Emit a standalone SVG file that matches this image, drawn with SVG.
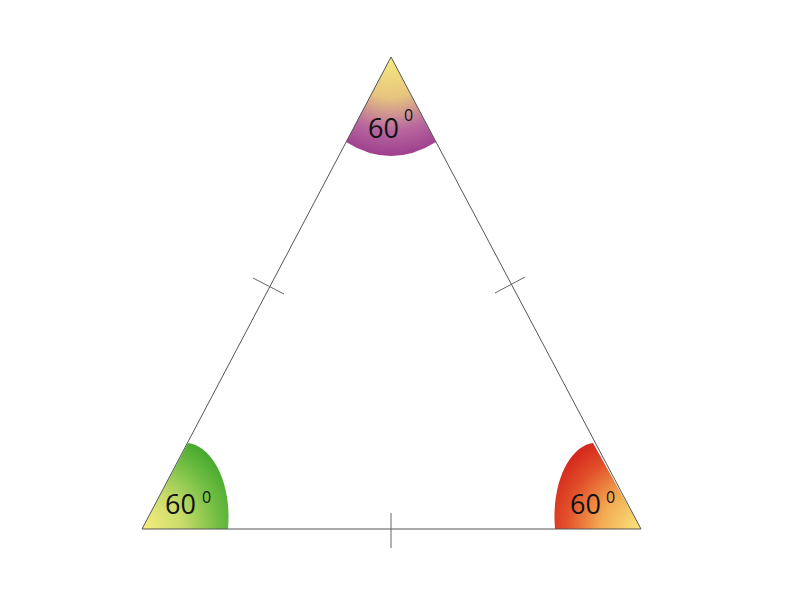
<svg xmlns="http://www.w3.org/2000/svg" width="800" height="600" viewBox="0 0 800 600">
  <style>
    .edge { stroke: #555; stroke-width: 1; fill: none; }
    .tick { stroke: #666; stroke-width: 1; fill: none; }
    .lbl { font-family: "Open Sans", "Liberation Sans", sans-serif; font-size: 27px; fill: #111; }
    .sup { font-family: "Open Sans", "Liberation Sans", sans-serif; font-size: 16px; fill: #111; }
  </style>
  <defs>
    <radialGradient id="gTop" gradientUnits="userSpaceOnUse" cx="391" cy="57" r="102">
      <stop offset="0" stop-color="#f7ea80"/>
      <stop offset="0.4" stop-color="#e6c47e"/>
      <stop offset="0.72" stop-color="#b8679f"/>
      <stop offset="1" stop-color="#9b3a8c"/>
    </radialGradient>
    <radialGradient id="gLeft" gradientUnits="userSpaceOnUse" cx="142" cy="529" r="100">
      <stop offset="0" stop-color="#f8ee80"/>
      <stop offset="0.4" stop-color="#c9dc6a"/>
      <stop offset="0.75" stop-color="#74bf44"/>
      <stop offset="1" stop-color="#45a82e"/>
    </radialGradient>
    <radialGradient id="gRight" gradientUnits="userSpaceOnUse" cx="641" cy="529" r="100">
      <stop offset="0" stop-color="#fbe77e"/>
      <stop offset="0.4" stop-color="#f2ab52"/>
      <stop offset="0.75" stop-color="#e2502a"/>
      <stop offset="1" stop-color="#d4281c"/>
    </radialGradient>
  </defs>
  <rect width="800" height="600" fill="#ffffff"/>

  <g id="angle-top">
    <path d="M391,57 L346,142 Q391,170 436,142 Z" fill="url(#gTop)"/>
    <text class="lbl" x="368" y="138">60</text>
    <text class="sup" x="404" y="121">0</text>
  </g>
  <g id="angle-left">
    <path d="M142,529 L188,443 C212,446 232,482 228,529 Z" fill="url(#gLeft)"/>
    <text class="lbl" x="165" y="514">60</text>
    <text class="sup" x="202" y="503">0</text>
  </g>
  <g id="angle-right">
    <path d="M641,529 L593,443 C570,446 551,482 555,529 Z" fill="url(#gRight)"/>
    <text class="lbl" x="570" y="514">60</text>
    <text class="sup" x="606" y="503">0</text>
  </g>

  <g id="connectors">
    <path class="edge" d="M391,57 L142,529 L641,529 Z"/>
    <line class="tick" x1="253" y1="278" x2="284" y2="294"/>
    <line class="tick" x1="495" y1="293" x2="525" y2="277"/>
    <line class="tick" x1="391" y1="513" x2="391" y2="548"/>
  </g>
</svg>
